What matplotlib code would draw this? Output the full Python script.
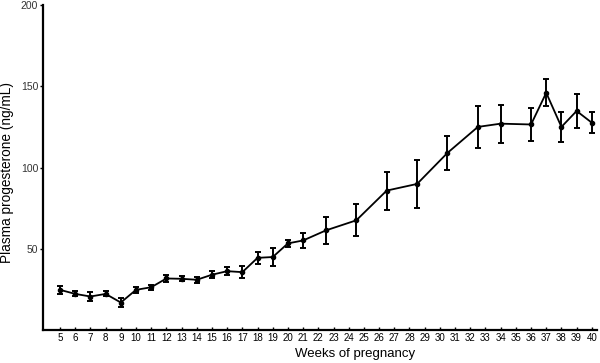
import matplotlib
matplotlib.use("Agg")
import matplotlib.pyplot as plt

plt.rcParams['font.family'] = ['Liberation Sans', 'DejaVu Sans']

# weeks of pregnancy (later points sit between two weeks)
weeks = [5, 6, 7, 8, 9, 10, 11, 12, 13, 14, 15, 16, 17, 18, 19, 20, 21,
         22.5, 24.5, 26.5, 28.5, 30.5, 32.5, 34, 36, 37, 38, 39, 40]
# plasma progesterone, ng/mL (mean)
progesterone = [24.7, 22.2, 20.6, 22.2, 16.9, 24.7, 26.3, 31.7, 31.5, 30.9, 34.0,
                36.2, 35.6, 44.4, 44.9, 53.3, 55.1,
                61.3, 67.5, 85.8, 89.9, 109.0, 125.0, 127.0, 126.5, 146.0, 125.0, 134.8, 127.6]
# error (+/-)
err = [2.5, 1.5, 2.5, 1.5, 2.5, 2.0, 1.5, 2.0, 1.5, 2.0, 2.0,
       2.5, 3.5, 3.5, 5.7, 2.0, 4.4,
       8.1, 9.8, 11.7, 14.8, 10.7, 13.0, 11.6, 10.0, 8.2, 9.0, 10.4, 6.4]

week_ticks = list(range(5, 41))
y_ticks = [50, 100, 150, 200]

fig = plt.figure(figsize=(6.0, 3.63), dpi=100)
ax = fig.add_axes([0.0717, 0.091, 0.923, 0.895])

ax.errorbar(weeks, progesterone, yerr=err, color='black', lw=1.3,
            marker='o', markersize=3, elinewidth=1.4, capsize=2.5, capthick=1.4)

ax.set_xlim(3.88, 40.33)
ax.set_ylim(0, 200)
ax.set_xticks(week_ticks)
ax.set_xticklabels([str(w) for w in week_ticks])
ax.set_yticks(y_ticks)

ax.spines['top'].set_visible(False)
ax.spines['right'].set_visible(False)
ax.spines['left'].set_linewidth(1.6)
ax.spines['bottom'].set_linewidth(1.6)

ax.tick_params(axis='x', direction='in', length=2.5, width=1, labelsize=7, pad=2)
ax.tick_params(axis='y', direction='out', length=2.5, width=1, labelsize=7.5, pad=1,
               labelcolor='#333333')

ax.set_xlabel('Weeks of pregnancy', fontsize=9.5)
ax.xaxis.set_label_coords(0.563, -0.055)
ax.set_ylabel('Plasma progesterone (ng/mL)', fontsize=9.8)
ax.yaxis.set_label_coords(-0.052, 0.486)

fig.savefig('out.png', dpi=100)
